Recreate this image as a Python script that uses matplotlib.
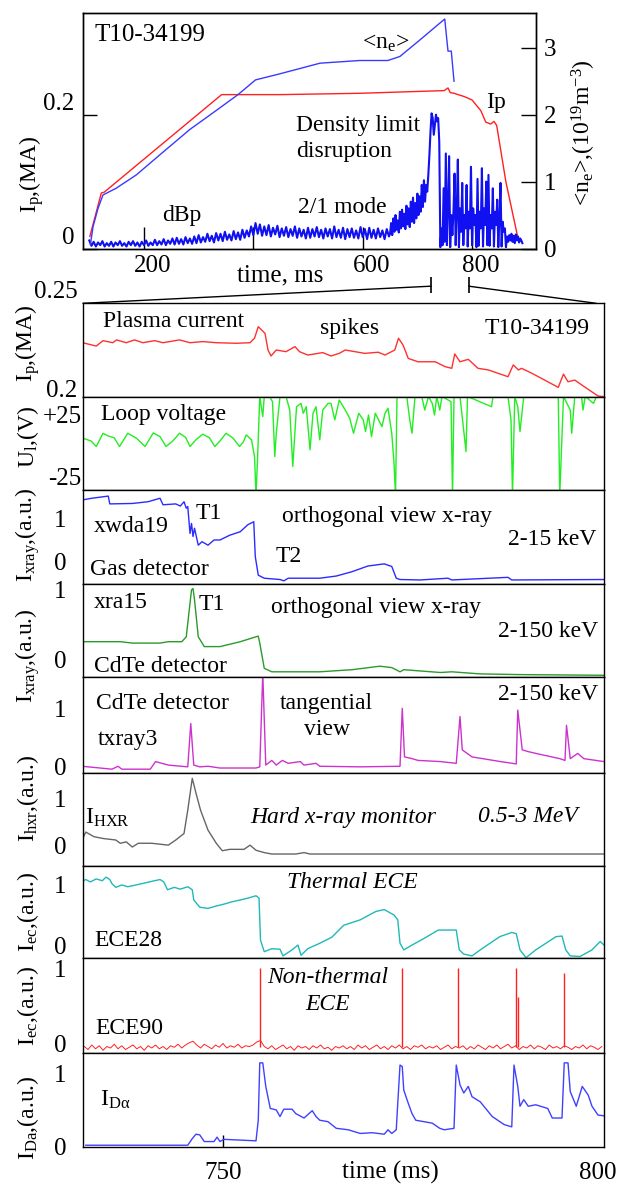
import numpy as np
import matplotlib.pyplot as plt
import matplotlib.transforms as mtransforms
from matplotlib.patches import ConnectionPatch

plt.rcParams['font.family'] = ['Liberation Serif', 'DejaVu Serif']
plt.rcParams['mathtext.fontset'] = 'custom'
plt.rcParams['mathtext.rm'] = 'Liberation Serif'
plt.rcParams['mathtext.it'] = 'Liberation Serif:italic'
plt.rcParams['axes.linewidth'] = 1.0

# ---- overview of the whole discharge ----
ip_top_t = [101, 122, 127, 342, 450, 595, 749, 756, 760, 767, 786, 800, 816, 825, 834, 840, 845, 862, 883]
ip_top = [0.018, 0.083, 0.084, 0.230, 0.230, 0.232, 0.236, 0.240, 0.233, 0.232, 0.227, 0.222,
          0.206, 0.189, 0.186, 0.190, 0.184, 0.099, 0.019]

ne_t = [102, 107, 116, 125, 149, 186, 229, 284, 330, 372, 404, 448, 522, 595, 646, 668, 705, 734,
        750, 756, 762, 767]
ne = [0.06, 0.33, 0.60, 0.80, 0.90, 1.10, 1.40, 1.78, 2.05, 2.30, 2.52, 2.61, 2.77, 2.81, 2.81,
      2.87, 3.12, 3.32, 3.43, 2.95, 2.95, 2.50]

# dBp probe, sampled every 4 ms up to 648 ms and every 2 ms afterwards
dbp_slow = [0.12, 0.04, 0.10, 0.03, 0.09, 0.05, 0.11, 0.03, 0.08, 0.04,
            0.10, 0.03, 0.09, 0.05, 0.11, 0.04, 0.08, 0.03, 0.10, 0.05,
            0.11, 0.04, 0.09, 0.03, 0.10, 0.05, 0.12, 0.04, 0.09, 0.05,
            0.13, 0.05, 0.11, 0.06, 0.14, 0.05, 0.12, 0.07, 0.15, 0.06,
            0.16, 0.07, 0.14, 0.06, 0.17, 0.08, 0.15, 0.07, 0.18, 0.08,
            0.20, 0.09, 0.17, 0.10, 0.22, 0.11, 0.19, 0.09, 0.23, 0.12,
            0.22, 0.11, 0.25, 0.13, 0.21, 0.12, 0.26, 0.14, 0.24, 0.13,
            0.28, 0.16, 0.27, 0.18, 0.33, 0.20, 0.38, 0.22, 0.36, 0.19,
            0.33, 0.20, 0.35, 0.18, 0.31, 0.21, 0.34, 0.17, 0.30, 0.19,
            0.32, 0.17, 0.29, 0.19, 0.33, 0.16, 0.30, 0.18, 0.28, 0.15,
            0.31, 0.16, 0.29, 0.18, 0.32, 0.17, 0.28, 0.15, 0.30, 0.18,
            0.29, 0.15, 0.33, 0.17, 0.28, 0.16, 0.31, 0.14, 0.29, 0.17,
            0.30, 0.16, 0.27, 0.15, 0.32, 0.17, 0.29, 0.14, 0.31, 0.16,
            0.28, 0.15, 0.30, 0.17, 0.27, 0.14, 0.29, 0.18]
dbp_fast = [0.22, 0.38, 0.20, 0.45, 0.25, 0.50, 0.28, 0.42, 0.24, 0.55,
            0.30, 0.58, 0.33, 0.52, 0.29, 0.64, 0.36, 0.60, 0.32, 0.70,
            0.40, 0.76, 0.38, 0.68, 0.45, 0.82, 0.50, 0.78, 0.55, 0.95,
            0.62, 1.02, 0.70, 0.95, 0.85, 1.10, 1.40, 1.75, 2.02, 1.95,
            1.70, 1.85, 2.00, 1.90, 1.95, 1.60, 0.02, 0.30, 0.05, 0.90,
            0.10, 1.42, 0.05, 0.60, 1.38, 0.02, 0.50, 0.20, 0.55, 1.12,
            0.05, 0.55, 1.33, 0.02, 0.60, 0.25, 0.98, 0.05, 0.50, 0.30,
            0.95, 0.03, 0.55, 0.30, 1.22, 0.05, 0.60, 0.35, 0.50, 0.02,
            1.04, 0.04, 0.55, 0.30, 1.20, 0.03, 0.60, 0.35, 1.00, 0.05,
            1.10, 0.04, 0.50, 0.30, 0.90, 0.03, 0.55, 0.35, 0.73, 0.02,
            0.45, 0.98, 0.03, 0.40, 0.25, 0.30, 0.02, 0.18, 0.10, 0.20,
            0.12, 0.22, 0.10, 0.19, 0.08, 0.21, 0.12, 0.18, 0.09, 0.15,
            0.12, 0.08]
dbp_t = np.concatenate([np.arange(100, 650, 4), np.arange(650, 893, 2)])
dbp = dbp_slow + dbp_fast

zoom_window = [725, 794]

# ---- zoomed signals, 731-801 ms ----
ip_t = [731.3, 733.1, 734.0, 735.3, 735.8, 737.1, 738.2, 739.3, 740.9, 742.0, 744.2, 745.6, 747.3,
        749.1, 751.8, 753.6, 754.2, 754.7, 755.6, 756.0, 756.4, 757.1, 758.4, 759.6, 760.2, 761.3,
        763.3, 764.4, 765.5, 766.3, 768.9, 770.7, 771.6, 772.9, 773.4, 774.0, 774.7, 776.0, 778.3,
        779.6, 780.5, 780.9, 781.6, 782.7, 784.0, 785.4, 788.0, 788.7, 789.4, 789.8, 791.2, 794.7,
        795.4, 796.0, 796.9, 798.3, 800.0, 800.8]
ip = [0.2289, 0.2271, 0.2300, 0.2289, 0.2304, 0.2289, 0.2304, 0.2289, 0.2300, 0.2289, 0.2304,
      0.2289, 0.2295, 0.2289, 0.2286, 0.2289, 0.2313, 0.2375, 0.2339, 0.2250, 0.2218, 0.2250,
      0.2241, 0.2268, 0.2241, 0.2223, 0.2236, 0.2218, 0.2232, 0.2250, 0.2232, 0.2238, 0.2223,
      0.2250, 0.2313, 0.2277, 0.2205, 0.2187, 0.2187, 0.2161, 0.2152, 0.2229, 0.2187, 0.2200,
      0.2152, 0.2143, 0.2107, 0.2170, 0.2143, 0.2152, 0.2125, 0.2050, 0.2121, 0.2080, 0.2089,
      0.2050, 0.2004, 0.2000]

uloop_t = [731.3, 732.4, 733.1, 734.0, 734.7, 735.5, 736.2, 737.3, 738.5, 739.6, 740.7, 741.6,
           742.4, 743.3, 744.2, 745.0, 745.6, 746.4, 747.3, 748.2, 748.9, 749.6, 750.4, 751.3,
           752.2, 752.7, 753.1, 753.8, 754.2, 754.4, 754.6, 754.9, 755.3, 755.5, 756.2, 756.6,
           756.9, 757.1, 757.6, 758.4, 758.9, 759.3, 759.8, 760.4, 760.7, 761.1, 761.6, 762.0,
           762.4, 762.9, 763.3, 764.0, 764.4, 764.9, 765.5, 766.3, 766.9, 767.4, 768.1, 768.7,
           769.0, 769.4, 769.8, 770.3, 771.2, 771.6, 772.0, 772.5, 772.8, 773.0, 773.2, 774.5,
           774.9, 775.2, 775.6, 776.5, 776.9, 777.4, 777.9, 778.2, 778.5, 778.9, 779.2, 780.4,
           780.6, 780.8, 781.6, 782.4, 782.6, 785.8, 786.0, 788.0, 788.4, 788.6, 788.9, 789.3,
           789.6, 790.1, 794.7, 794.9, 795.4, 796.3, 796.5, 796.9, 797.8, 798.0, 798.3, 799.4,
           799.8, 800.8]
uloop = [6.2, 4.0, -0.5, 10.2, 8.0, 6.5, -0.5, 10.2, 6.0, -0.5, 10.5, 7.5,
         -0.5, 4.0, 10.2, 7.0, -0.5, 5.0, 9.5, 6.5, -0.5, 4.0, 10.2, 6.5,
         -0.5, 3.0, 8.9, 4.9, -8.6, -40, -11.3, 40, 23.7, 40, 40, 35.8,
         -8.6, 10.2, 40, 40, 29.0, -16.7, 31.7, 34.4, 26.4, 31.7, -3.2, 26.4,
         31.7, 4.9, 29.0, 34.4, 34.4, 21.0, 37.1, 29.0, 22.3, 10.2, 26.4, 21.0,
         11.6, 25.0, 7.5, 26.4, 15.6, 26.4, 30.4, 10.2, -14.0, -40, 40, 40,
         21.0, 10.2, 40, 40, 29.0, 40, 34.4, 25.0, 40, 29.0, 40, 35.8,
         -40, 40, 40, -4.6, 40, 31.7, 40, 40, 21.0, -40, 40, 31.7,
         11.6, 40, 40, -40, 40, 29.0, 10.2, 40, 40, 29.0, 40, 34.4,
         40, 40]

xwda_t = [731.2, 732.5, 734.7, 734.9, 737.9, 740.0, 741.6, 742.0, 743.7, 744.3, 744.8, 745.1,
          745.3, 745.6, 745.8, 746.0, 746.2, 746.7, 747.2, 748.0, 748.8, 749.6, 750.9, 752.3,
          753.3, 754.1, 754.3, 754.7, 755.5, 757.6, 758.1, 758.7, 762.9, 765.1, 767.2, 769.3,
          771.5, 772.5, 773.1, 773.6, 776.3, 780.0, 780.5, 788.0, 788.5, 800.8]
xwda = [1.42, 1.46, 1.51, 1.33, 1.34, 1.38, 1.46, 1.31, 1.33, 1.28, 1.38, 1.23,
        1.27, 0.65, 0.88, 0.58, 0.77, 0.38, 0.46, 0.38, 0.50, 0.50, 0.61, 0.69,
        0.85, 0.92, 0.12, -0.31, -0.38, -0.41, -0.44, -0.38, -0.38, -0.33, -0.23, -0.10,
        -0.05, -0.11, -0.38, -0.41, -0.42, -0.38, -0.42, -0.36, -0.42, -0.41]

xra_t = [731.2, 736.3, 737.9, 741.6, 742.7, 744.5, 745.1, 745.4, 745.8, 746.0, 746.2, 746.7,
         747.5, 749.6, 752.3, 754.7, 754.9, 755.5, 756.5, 762.9, 767.2, 770.9, 772.5, 773.6,
         774.1, 779.0, 780.5, 784.3, 789.6, 800.8]
xra = [0.26, 0.26, 0.24, 0.24, 0.26, 0.26, 0.33, 0.62, 1.00, 1.02, 0.86, 0.33,
       0.19, 0.19, 0.26, 0.34, 0.24, -0.12, -0.17, -0.17, -0.14, -0.09, -0.11, -0.17,
       -0.14, -0.18, -0.17, -0.20, -0.21, -0.22]

txray_t = [731.2, 735.2, 736.0, 736.5, 740.3, 741.0, 742.7, 745.3, 745.7, 746.1, 746.9, 748.0,
           749.6, 754.4, 754.9, 755.3, 755.7, 756.5, 757.1, 757.9, 758.7, 760.3, 760.8, 762.4,
           762.9, 768.3, 773.6, 773.9, 774.2, 775.2, 776.0, 779.0, 781.1, 781.6, 781.9, 783.2,
           787.0, 789.1, 789.3, 789.9, 790.7, 791.7, 794.9, 795.6, 795.8, 796.3, 797.3, 798.1,
           800.8]
txray = [0.01, -0.04, 0.01, -0.04, -0.04, 0.09, 0.03, 0.00, 0.74, 0.03, 0.00, 0.01,
         -0.02, -0.02, 0.00, 1.60, 0.03, 0.11, 0.03, 0.11, 0.06, 0.09, 0.03, 0.06,
         0.01, 0.00, 0.01, 1.00, 0.17, 0.14, 0.11, 0.09, 0.06, 0.86, 0.29, 0.17,
         0.09, 0.05, 0.97, 0.29, 0.26, 0.23, 0.14, 0.11, 0.71, 0.14, 0.23, 0.14,
         0.09]

hxr_t = [731.2, 731.7, 732.8, 734.1, 735.7, 736.3, 737.1, 737.9, 738.7, 740.5, 742.7, 743.7,
         744.8, 745.3, 745.9, 746.4, 747.0, 748.0, 749.1, 749.9, 750.9, 752.8, 753.6, 754.4,
         755.5, 756.5, 759.7, 760.8, 761.6, 800.8]
hxr = [0.11, 0.28, 0.18, 0.14, 0.11, 0.04, 0.07, -0.04, 0.04, 0.04, 0.00, 0.11,
       0.25, 0.75, 1.43, 1.11, 0.75, 0.32, 0.04, -0.12, -0.09, -0.09, 0.00, -0.11,
       -0.16, -0.19, -0.19, -0.16, -0.19, -0.19]

ece28_t = [731.2, 731.7, 732.3, 733.1, 733.9, 734.4, 734.9, 735.2, 735.7, 736.5, 737.3, 738.4,
           739.5, 740.5, 741.6, 742.1, 742.6, 743.5, 744.3, 745.3, 745.9, 746.1, 746.9, 748.0,
           749.1, 750.1, 751.2, 752.3, 753.3, 754.4, 754.8, 755.0, 755.5, 756.5, 757.6, 758.0,
           759.2, 760.0, 760.4, 761.3, 762.9, 764.5, 766.1, 768.3, 770.4, 771.5, 772.8, 773.3,
           773.6, 774.1, 775.2, 776.8, 778.7, 781.1, 781.5, 782.1, 783.2, 784.3, 786.9, 788.5,
           789.1, 789.6, 790.4, 791.7, 794.4, 795.2, 795.7, 796.3, 797.6, 799.2, 800.3, 800.8]
ece28 = [1.06, 1.09, 1.05, 1.10, 1.07, 1.13, 1.09, 1.02, 0.96, 1.00, 0.97, 1.00,
         1.03, 1.06, 1.09, 1.05, 0.92, 0.96, 0.93, 0.97, 0.92, 0.75, 0.63, 0.61,
         0.65, 0.68, 0.72, 0.75, 0.78, 0.82, 0.78, 0.08, -0.11, -0.06, -0.07, -0.18,
         -0.08, 0.00, -0.17, -0.06, 0.03, 0.13, 0.33, 0.42, 0.56, 0.59, 0.50, 0.42,
         0.03, -0.08, 0.00, 0.11, 0.25, 0.25, -0.08, -0.15, -0.18, -0.08, 0.14, 0.21,
         0.19, -0.08, -0.21, -0.08, 0.14, 0.15, -0.08, -0.18, -0.19, -0.08, 0.06, 0.00]

# ECE90 background every 0.5 ms from 731.5 ms, plus the non-thermal bursts
ece90_base = [-0.04, -0.08, -0.02, -0.07, -0.03, -0.09, -0.04, -0.06, -0.01, -0.07,
              -0.03, -0.08, -0.05, -0.02, -0.07, -0.04, -0.09, -0.03, -0.06, -0.02,
              -0.07, -0.04, -0.08, -0.03, -0.05, -0.01, -0.06, -0.02, 0.01, 0.03,
              -0.02, -0.06, -0.01, -0.04, -0.07, -0.02, -0.05, 0.00, -0.06, -0.03,
              -0.05, -0.01, -0.06, -0.03, -0.04, -0.02, 0.02, 0.04, -0.04, -0.07,
              -0.03, -0.08, -0.05, -0.02, -0.07, -0.04, -0.09, -0.03, -0.06, -0.04,
              -0.08, -0.03, -0.06, -0.02, -0.07, -0.05, -0.09, -0.04, -0.06, -0.03,
              -0.07, -0.04, -0.08, -0.02, -0.06, -0.03, -0.08, -0.05, -0.02, -0.07,
              -0.04, -0.08, -0.03, -0.06, -0.02, -0.07, -0.04, -0.08, -0.03, -0.05,
              -0.02, -0.07, -0.04, -0.06, -0.03, -0.08, -0.05, -0.02, -0.07, -0.04,
              -0.06, -0.03, -0.08, -0.04, -0.07, -0.02, -0.05, -0.08, -0.03, -0.06,
              -0.02, -0.07, -0.04, -0.01, -0.06, -0.03, -0.08, -0.04, -0.06, -0.02,
              -0.07, -0.03, -0.05, -0.08, -0.02, -0.06, -0.04, -0.07, -0.03, -0.05,
              -0.08, -0.04, -0.06, -0.02, -0.07, -0.03, -0.05, -0.08, -0.04]
ece90_t = np.arange(731.5, 800.6, 0.5)
burst_t = [754.9, 773.8, 781.3, 789.1, 789.3, 795.5]
burst = [1.0, 1.0, 1.0, 1.0, 0.62, 0.93]

dalpha_t = [731.7, 745.3, 745.9, 746.4, 746.9, 747.5, 748.8, 749.2, 749.6, 750.1, 754.4, 754.7,
            754.9, 755.3, 755.7, 756.3, 757.1, 757.6, 758.1, 759.2, 759.7, 760.8, 761.9, 762.4,
            762.9, 764.0, 765.1, 766.7, 768.3, 769.9, 771.5, 772.0, 772.5, 773.1, 773.3, 773.6,
            773.9, 774.1, 774.7, 775.2, 775.7, 776.8, 777.9, 778.9, 779.5, 780.8, 781.1, 781.6,
            782.1, 782.7, 783.2, 784.3, 785.9, 787.5, 788.5, 788.8, 789.3, 789.6, 790.1, 790.7,
            791.7, 793.3, 793.9, 795.2, 795.5, 796.0, 796.3, 797.1, 797.9, 798.7, 799.2, 800.0,
            800.8]
dalpha = [0.02, 0.02, 0.11, 0.17, 0.16, 0.07, 0.07, 0.13, 0.07, 0.10, 0.08, 0.36,
          1.14, 1.14, 0.82, 0.52, 0.50, 0.41, 0.51, 0.51, 0.45, 0.39, 0.49, 0.41,
          0.36, 0.34, 0.25, 0.23, 0.18, 0.19, 0.17, 0.23, 0.18, 0.23, 0.59, 1.11,
          1.09, 0.77, 0.59, 0.45, 0.36, 0.34, 0.32, 0.25, 0.23, 0.25, 1.11, 0.84,
          0.73, 0.82, 0.68, 0.61, 0.41, 0.30, 0.27, 1.11, 0.82, 0.55, 0.64, 0.55,
          0.57, 0.52, 0.39, 0.39, 1.14, 1.14, 0.75, 0.55, 0.82, 0.70, 0.55, 0.43,
          0.42]

W, H = 627, 1186
fig = plt.figure(figsize=(W / 100, H / 100), dpi=100)


def px_axes(left, top, right, bottom):
    return fig.add_axes([left / W, 1 - bottom / H, (right - left) / W, (bottom - top) / H])


FS = 17

# ---------------- overview panel ----------------
ax0 = px_axes(83, 13, 535.5, 248.5)
ax0.plot(ip_top_t, ip_top, color='#ff2020', lw=1.0)
ax0.set_xlim(88.5, 916)
ax0.set_ylim(0, 0.352)
ax0.set_xticks([200, 400, 600, 800])
ax0.set_xticklabels(['200', '', '600', '800'], fontsize=18)
ax0.tick_params(axis='x', direction='in', length=16, width=1, pad=5)
ax0.set_yticks([0, 0.2])
ax0.set_yticklabels(['0', '0.2'], fontsize=18, va='bottom')
ax0.tick_params(axis='y', direction='in', length=10, width=1, pad=6)

axr = ax0.twinx()
axr.plot(dbp_t, dbp, color='#1010f0', lw=1.5)
axr.plot(ne_t, ne, color='#3a3aff', lw=1.0)
axr.set_ylim(0, 3.52)
axr.set_yticks([0, 1, 2, 3])
axr.set_yticklabels(['0', '1', '2', '3'], fontsize=18)
axr.tick_params(axis='y', direction='in', length=11, width=1, pad=6)

# the time labels sit a little right of their ticks
shift = mtransforms.ScaledTranslation(9 / 100, 0, fig.dpi_scale_trans)
for lbl in ax0.get_xticklabels():
    lbl.set_transform(lbl.get_transform() + shift)

ax0.text(0.0265, 0.907, 'T10-34199', transform=ax0.transAxes, fontsize=18, va='center')
ax0.text(0.617, 0.873, '<n$_\\mathrm{e}$>', transform=ax0.transAxes, fontsize=FS, va='center')
ax0.text(0.891, 0.618, 'Ip', transform=ax0.transAxes, fontsize=FS, va='center')
ax0.text(0.471, 0.524, 'Density limit', transform=ax0.transAxes, fontsize=FS, va='center')
ax0.text(0.471, 0.410, 'disruption', transform=ax0.transAxes, fontsize=FS, va='center')
ax0.text(0.175, 0.142, 'dBp', transform=ax0.transAxes, fontsize=FS, va='center')
ax0.text(0.475, 0.176, '2/1 mode', transform=ax0.transAxes, fontsize=FS, va='center')
ax0.text(0.435, -0.113, 'time, ms', transform=ax0.transAxes, fontsize=18, ha='center', va='center')
fig.text(32 / W, 1 - 174 / H, 'I$_\\mathrm{p}$,(MA)', rotation=90, fontsize=FS,
         ha='center', va='center')
fig.text(584 / W, 1 - 133 / H, '<n$_\\mathrm{e}$>,(10$^{19}$m$^{-3}$)', rotation=90, fontsize=FS,
         ha='center', va='center')

# ---------------- zoomed panels ----------------
edges = [303.3, 396.7, 490, 584.3, 676.7, 772.7, 865.7, 958.3, 1053.3, 1146.7]
axes = [px_axes(83, edges[i], 604, edges[i + 1]) for i in range(9)]
for ax in axes:
    ax.set_xlim(731.33, 800.8)
    ax.tick_params(axis='x', length=0, labelbottom=False)
    ax.tick_params(axis='y', length=0, labelsize=18, pad=12)

a1, a2, a3, a4, a5, a6, a7, a8, a9 = axes

a1.plot(ip_t, ip, color='#ff3030', lw=1.0)
a1.set_ylim(0.2, 0.25)
a1.set_yticks([0.2, 0.25])
a1.set_yticklabels(['0.2', '0.25'])
a1.get_yticklabels()[0].set_va('baseline')
a1.get_yticklabels()[1].set_va('bottom')
a1.tick_params(axis='y', pad=4)

a2.plot(uloop_t, uloop, color='#22ee22', lw=1.0)
a2.set_ylim(-35.7, 39.8)
a2.set_yticks([-25, 25])
a2.set_yticklabels(['-25', '+25'])
a2.tick_params(axis='y', pad=1)

a3.plot(xwda_t, xwda, color='#2b2bff', lw=1.0)
a3.set_ylim(-0.52, 1.65)

a4.plot(xra_t, xra, color='#2a9a2a', lw=1.0)
a4.set_ylim(-0.24, 1.08)

a5.plot(txray_t, txray, color='#cc33cc', lw=1.0)
a5.set_ylim(-0.10, 1.54)

a6.plot(hxr_t, hxr, color='#666666', lw=1.0)
a6.set_ylim(-0.44, 1.55)

a7.plot(ece28_t, ece28, color='#20b8b8', lw=1.0)
a7.set_ylim(-0.22, 1.32)

a8.plot(ece90_t, ece90_base, color='#ff2020', lw=0.7)
a8.vlines(burst_t, -0.05, burst, color='#ff2020', lw=1.0)
a8.set_ylim(-0.13, 1.13)

a9.plot(dalpha_t, dalpha, color='#4040ff', lw=1.0)
a9.set_ylim(0, 1.27)

for ax in axes[2:]:
    ax.set_yticks([0, 1])
    ax.set_yticklabels(['0', '1'])

a9.set_xticks([750, 800])
a9.set_xticklabels(['750', '800'], fontsize=18)
a9.tick_params(axis='x', direction='in', length=9, width=1, labelbottom=True, pad=11)
a9.xaxis.get_major_ticks()[1].tick1line.set_visible(False)
fig.text(390 / W, 1 - 1172 / H, 'time (ms)', fontsize=18, ha='center', va='center')


def label(ax, x, y, s, **kw):
    ax.text(x, y, s, transform=ax.transAxes, fontsize=FS, va='center', **kw)


label(a1, 0.038, 0.80, 'Plasma current')
label(a1, 0.512, 0.735, 'spikes', ha='center')
label(a1, 0.973, 0.735, 'T10-34199', ha='right')
label(a2, 0.035, 0.804, 'Loop voltage')
label(a3, 0.021, 0.608, 'xwda19')
label(a3, 0.217, 0.756, 'T1')
label(a3, 0.382, 0.714, 'orthogonal view x-ray')
label(a3, 0.985, 0.470, '2-15 keV', ha='right')
label(a3, 0.370, 0.290, 'T2')
label(a3, 0.013, 0.152, 'Gas detector')
label(a4, 0.021, 0.798, 'xra15')
label(a4, 0.221, 0.776, 'T1')
label(a4, 0.361, 0.744, 'orthogonal view x-ray')
label(a4, 0.988, 0.484, '2-150 keV', ha='right')
label(a4, 0.021, 0.105, 'CdTe detector')
label(a5, 0.025, 0.726, 'CdTe detector')
label(a5, 0.029, 0.341, 'txray3')
label(a5, 0.468, 0.726, 'tangential', ha='center')
label(a5, 0.468, 0.445, 'view', ha='center')
label(a5, 0.988, 0.810, '2-150 keV', ha='right')
label(a6, 0.004, 0.513, 'I$_\\mathrm{HXR}$')
label(a6, 0.321, 0.513, 'Hard x-ray monitor', style='italic')
label(a6, 0.758, 0.524, '0.5-3 MeV', style='italic')
label(a7, 0.516, 0.814, 'Thermal ECE', style='italic', ha='center')
label(a7, 0.021, 0.197, 'ECE28')
label(a8, 0.470, 0.793, 'Non-thermal', style='italic', ha='center')
label(a8, 0.470, 0.509, 'ECE', style='italic', ha='center')
label(a8, 0.023, 0.263, 'ECE90')
label(a9, 0.033, 0.50, 'I$_\\mathrm{D\u03b1}$')

ylabels = [(343, 'I$_\\mathrm{p}$,(MA)'), (437, 'U$_\\mathrm{l}$,(V)'),
           (535, 'I$_\\mathrm{xray}$,(a.u.)'), (656, 'I$_\\mathrm{xray}$,(a.u.)'),
           (798, 'I$_\\mathrm{hxr}$,(a.u.)'), (912, 'I$_\\mathrm{ec}$,(a.u.)'),
           (1006, 'I$_\\mathrm{ec}$,(a.u.)'), (1118, 'I$_\\mathrm{Da}$,(a.u.)')]
for yc, s in ylabels:
    fig.text(28 / W, 1 - yc / H, s, rotation=90, fontsize=FS, ha='center', va='center')

# lines tying the zoom window on the overview to the stacked panels
ax0.vlines(zoom_window, -0.19, -0.12, transform=ax0.get_xaxis_transform(), clip_on=False,
           colors='black', lw=1.2)
for xa, xb in zip(zoom_window, [0.0, 0.985]):
    con = ConnectionPatch(xyA=(xa, -0.16), coordsA=ax0.get_xaxis_transform(),
                          xyB=(xb, 1.0), coordsB=a1.transAxes, color='black', lw=1.0)
    fig.add_artist(con)

fig.savefig('out.png', dpi=100)
